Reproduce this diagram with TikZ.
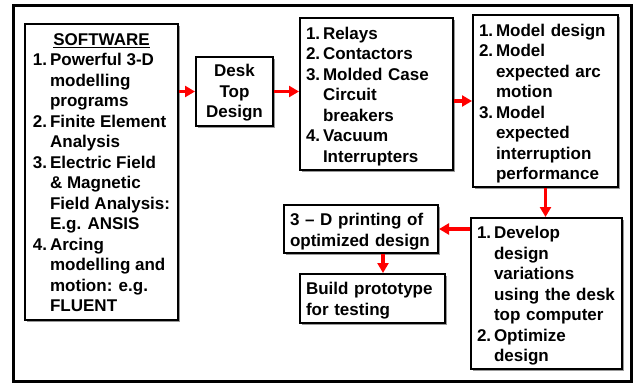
\documentclass[tikz,border=0pt]{standalone}
\usepackage{fontspec}
\setmainfont{Liberation Sans}
\usetikzlibrary{arrows.meta,shadows}

\newcommand*{\itemnr}[1]{\makebox[17pt][l]{#1}}
\newcommand*{\cont}{\hspace*{17pt}}
\newcommand*{\tstrut}[1]{\rule{0pt}{#1}}

\begin{document}
\begin{tikzpicture}
[
	x=1pt, y=-1pt,
	box/.style={draw, line width=2pt, fill=white, inner sep=0pt,
		font=\bfseries\fontsize{17}{20.5}\selectfont,
		drop shadow={shadow xshift=2pt, shadow yshift=-2pt, fill=black!40, opacity=1}},
	listbox/.style={box, align=left, inner xsep=6pt},
	arr/.style={red, line width=3.5pt, -{Triangle[length=10pt,width=11pt]}}
]

	\useasboundingbox (0,0) rectangle (633,383);

	% frame
	\draw[line width=3pt] (13.5,5.5) rectangle (631.5,381.5);

	% boxes
	\node[box, minimum width=153pt, minimum height=296pt] (sw) at (101.5,172)
	{\begin{tabular}{@{}l@{\hspace{3pt}}l@{}}
		\multicolumn{2}{c}{\tstrut{19pt}\underline{SOFTWARE}}\\
		1. & Powerful 3-D\\
		   & modelling\\
		   & programs\\
		2. & Finite Element\\
		   & Analysis\\
		3. & Electric Field\\
		   & \& Magnetic\\
		   & Field Analysis:\\
		   & E.g. ANSIS\\
		4. & Arcing\\
		   & modelling and\\
		   & motion: e.g.\\
		   & FLUENT
	\end{tabular}};

	\node[box, align=center, minimum width=77pt, minimum height=69pt] (desk) at (234.5,91.5)
		{\tstrut{15.5pt}Desk\\Top\\Design};

	\node[listbox, text width=141pt, minimum height=152pt] (relays) at (376.5,94)
		{\tstrut{17.5pt}\itemnr{1.}Relays\\
		 \itemnr{2.}Contactors\\
		 \itemnr{3.}Molded Case\\
		 \cont Circuit\\
		 \cont breakers\\
		 \itemnr{4.}Vacuum\\
		 \cont Interrupters};

	\node[listbox, text width=133pt, minimum height=172pt] (model) at (545.5,101)
		{\tstrut{17.5pt}\itemnr{1.}Model design\\
		 \itemnr{2.}Model\\
		 \cont expected arc\\
		 \cont motion\\
		 \itemnr{3.}Model\\
		 \cont expected\\
		 \cont interruption\\
		 \cont performance};

	\node[listbox, text width=139pt, minimum height=151pt] (develop) at (546.5,293.5)
		{\tstrut{17.5pt}\itemnr{1.}Develop\\
		 \cont design\\
		 \cont variations\\
		 \cont using the desk\\
		 \cont top computer\\
		 \itemnr{2.}Optimize\\
		 \cont design};

	\node[listbox, text width=142pt, minimum height=48pt] (print) at (361,229)
		{\tstrut{17.5pt}3 -- D printing of\\optimized design};

	\node[listbox, text width=133pt, minimum height=49pt] (build) at (372.5,298.5)
		{\tstrut{16.5pt}Build prototype\\for testing};

	% arrows
	\draw[arr] (sw.east |- desk.west) -- (desk.west);
	\draw[arr] (desk.east) -- (desk.east -| relays.west);
	\draw[arr] (relays.east |- model.west) -- (model.west);
	\draw[arr] (model.south) -- (model.south |- develop.north);
	\draw[arr] (develop.west |- print.east) -- (print.east);
	\draw[arr] ([xshift=22pt]print.south) -- ([xshift=22pt]print.south |- build.north);

\end{tikzpicture}
\end{document}
